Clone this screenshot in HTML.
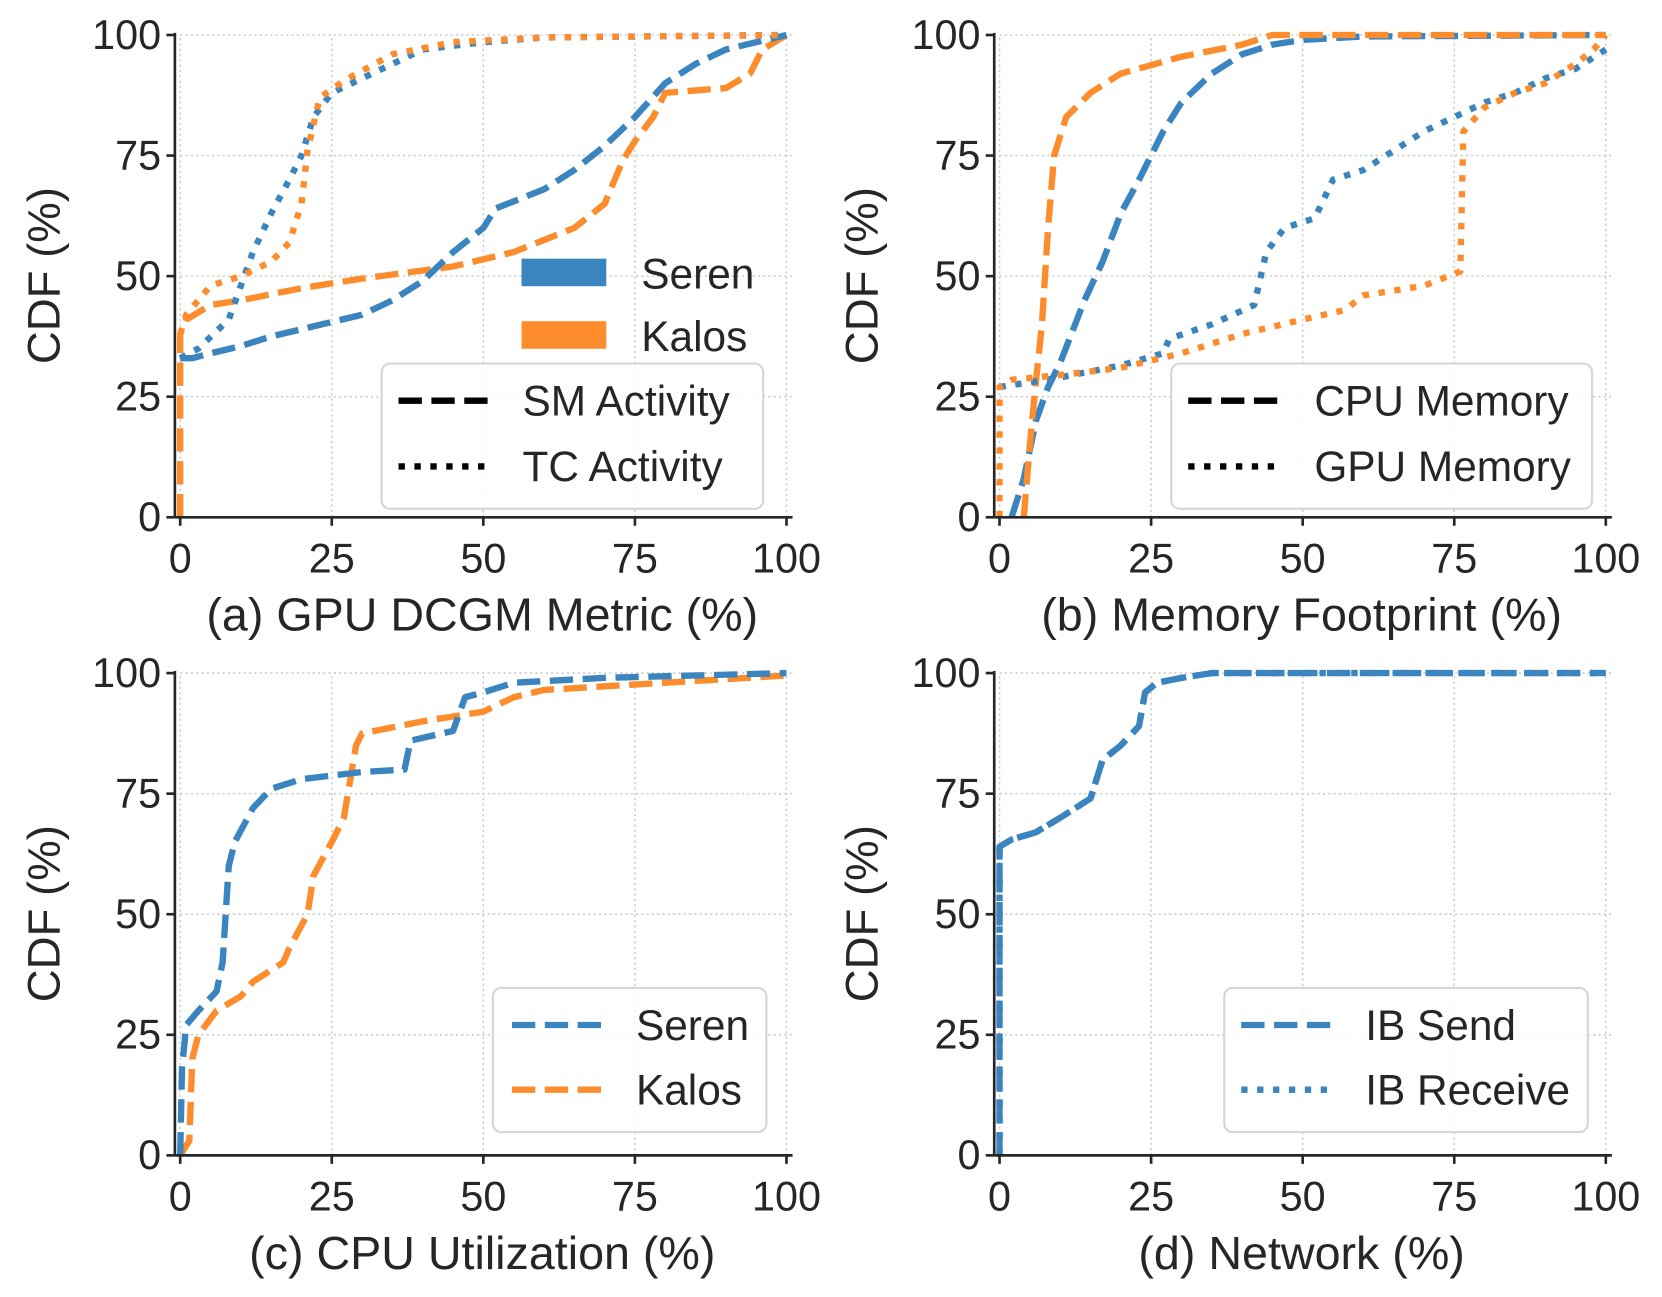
<!DOCTYPE html>
<html><head><meta charset="utf-8"><style>
html,body{margin:0;padding:0;background:#fff}
svg{display:block}
text{font-family:"Liberation Sans",sans-serif;fill:#262626}
</style></head><body>
<svg id="s" width="1662" height="1297" viewBox="0 0 1568 1223.6" xmlns="http://www.w3.org/2000/svg">
<g id="g"></g>
<text x="56" y="260" font-size="43" text-anchor="middle" transform="rotate(-90 56 260)">CDF (%)</text>
<text x="828" y="260" font-size="43" text-anchor="middle" transform="rotate(-90 828 260)">CDF (%)</text>
<text x="56" y="862" font-size="43" text-anchor="middle" transform="rotate(-90 56 862)">CDF (%)</text>
<text x="828" y="862" font-size="43" text-anchor="middle" transform="rotate(-90 828 862)">CDF (%)</text>
<text x="455" y="595" font-size="44" text-anchor="middle">(a) GPU DCGM Metric (%)</text>
<text x="1228" y="595" font-size="44" text-anchor="middle">(b) Memory Footprint (%)</text>
<text x="455" y="1197" font-size="44" text-anchor="middle">(c) CPU Utilization (%)</text>
<text x="1228" y="1197" font-size="44" text-anchor="middle">(d) Network (%)</text>
</svg>
<script>
var NS="http://www.w3.org/2000/svg",G=document.getElementById('g');
function el(t,a,txt){var e=document.createElementNS(NS,t);for(var k in a)e.setAttribute(k,a[k]);if(txt!=null)e.textContent=txt;G.appendChild(e);return e;}
var B="#3a84bf",O="#fd8d2c";
var DASH="22,9",DOT="6,9";
function panel(x0,y0,curves){
 var X=function(v){return x0+5.72*v},Y=function(p){return y0-4.55*p};
 for(var i=0;i<=4;i++){
  var v=i*25;
  el('line',{x1:X(v),y1:Y(0),x2:X(v),y2:Y(100),stroke:"#ccc","stroke-width":1.5,"stroke-dasharray":"2,3"});
  el('line',{x1:X(0),y1:Y(v),x2:X(101),y2:Y(v),stroke:"#ccc","stroke-width":1.5,"stroke-dasharray":"2,3"});
  el('line',{x1:X(v),y1:Y(0),x2:X(v),y2:Y(0)+8,stroke:"#262626","stroke-width":2.5});
  el('line',{x1:x0-5,y1:Y(v),x2:x0-13,y2:Y(v),stroke:"#262626","stroke-width":2.5});
  el('text',{x:X(v),y:Y(0)+52,"font-size":39,"text-anchor":"middle"},String(v));
  el('text',{x:x0-18,y:Y(v)+13,"font-size":39,"text-anchor":"end"},String(v));
 }
 curves.forEach(function(c){
  var d=c.pts.map(function(p,i){return (i?'L':'M')+X(p[0]).toFixed(1)+' '+Y(p[1]).toFixed(1)}).join(' ');
  el('path',{d:d,fill:"none",stroke:c.col,"stroke-width":6,"stroke-dasharray":c.dash,"stroke-linejoin":"round"});
 });
 el('line',{x1:x0-5,y1:Y(0),x2:x0-5,y2:Y(100)-2,stroke:"#262626","stroke-width":2.5});
 el('line',{x1:x0-5,y1:Y(0),x2:X(101),y2:Y(0),stroke:"#262626","stroke-width":2.5});
}
panel(170,488,[
 {col:O,dash:DASH,pts:[[0,0],[0,38],[1,41],[5,44],[10,45],[20,47.5],[30,49.5],[45,52],[55,55],[65,60],[70,65],[73,74],[75,78],[78,83],[80,88],[85,88.5],[90,89],[94,92],[96,97],[100,100]]},
 {col:B,dash:DASH,pts:[[0,33],[2,33],[5,34],[10,35.5],[15,37.5],[20,39],[30,42],[35,45],[40,49],[45,55],[50,60],[52,64],[60,68],[65,72],[70,77],[75,83],[80,90],[85,94],[90,97],[95,98.5],[100,100]]},
 {col:B,dash:DOT,pts:[[0,33],[3,35],[8,41],[10,48],[12,55],[15,63],[18,70],[20,75],[22,83],[25,88],[30,91],[35,94],[40,97],[50,98.5],[60,99.5],[100,100]]},
 {col:O,dash:DOT,pts:[[0,38],[1,42],[5,48],[10,50],[15,53],[18,57],[20,65],[21,76],[23,87],[27,90.5],[35,96],[45,98.5],[60,99.5],[100,100]]}
]);
panel(943,488,[
 {col:B,dash:DASH,pts:[[2,0],[4,8],[6,20],[8,27],[10,32],[14,45],[17,53],[20,63],[23,70],[27,80],[30,86],[35,92],[40,96],[45,98],[50,99],[60,99.7],[100,100]]},
 {col:O,dash:DASH,pts:[[4,0],[5,15],[6,28],[7,40],[8,60],[9,75],[11,83],[15,88],[20,92],[30,95.5],[40,98],[45,100],[100,100]]},
 {col:B,dash:DOT,pts:[[0,27],[10,29],[20,31.5],[27,34],[28,37],[35,40],[42,44],[44,55],[47,60],[52,62],[55,70],[60,72],[65,76],[70,80],[75,83],[80,86],[85,88],[90,91],[95,93],[100,97]]},
 {col:O,dash:DOT,pts:[[0,0],[0,27],[2,28.5],[10,29.5],[20,31],[30,34],[40,38],[50,41],[57,43],[60,46],[70,48],[76,51],[76.5,80],[80,85],[85,88],[90,90],[95,94],[98,97],[100,100]]}
]);
panel(170,1090,[
 {col:O,dash:DASH,pts:[[0,0],[1,2],[1.5,3],[2,20],[3,25],[6,30],[10,33],[12,36],[17,40],[18,43],[21,50],[22,58],[25,65],[27,70],[29,85],[30,87.5],[40,90],[50,92],[55,95],[60,96.5],[80,98],[100,99.5]]},
 {col:B,dash:DASH,pts:[[0,0],[0.3,18],[1,27],[3,30],[6,34],[7,40],[8,60],[9,65],[12,72],[15,76],[20,78],[30,79.5],[37,80],[38,86],[45,88],[47,95],[50,96],[55,98],[70,99],[100,100]]}
]);
var dn=[[0,0],[0,64],[2,65.5],[6,67],[10,70],[15,74],[17,82],[20,85],[23,89],[24,96],[26,98],[30,99],[35,100],[100,100]];
panel(943,1090,[{col:B,dash:DOT,pts:dn},{col:B,dash:DASH,pts:dn}]);
function box(x,y,w,h){el('rect',{x:x,y:y,width:w,height:h,rx:8,fill:"rgba(255,255,255,0.85)",stroke:"#d6d6d6","stroke-width":2});}
function item(x,y,col,dash,t,tx){el('line',{x1:x,y1:y,x2:x+87,y2:y,stroke:col,"stroke-width":6,"stroke-dasharray":dash});el('text',{x:tx,y:y+14,"font-size":40},t);}
el('rect',{x:492,y:244,width:80,height:26,fill:B});el('text',{x:605,y:272,"font-size":40},"Seren");
el('rect',{x:492,y:303,width:80,height:26,fill:O});el('text',{x:605,y:331,"font-size":40},"Kalos");
box(360,343,360,137);item(376,378,"#000",DASH,"SM Activity",493);item(376,440,"#000",DOT,"TC Activity",493);
box(1105,343,397,137);item(1121,378,"#000",DASH,"CPU Memory",1240);item(1121,440,"#000",DOT,"GPU Memory",1240);
box(465,932,258,136);item(483,967,B,DASH,"Seren",600);item(483,1028,O,DASH,"Kalos",600);
box(1155,932,343,136);item(1171,967,B,DASH,"IB Send",1288);item(1171,1028,B,DOT,"IB Receive",1288);
</script>
</body></html>
